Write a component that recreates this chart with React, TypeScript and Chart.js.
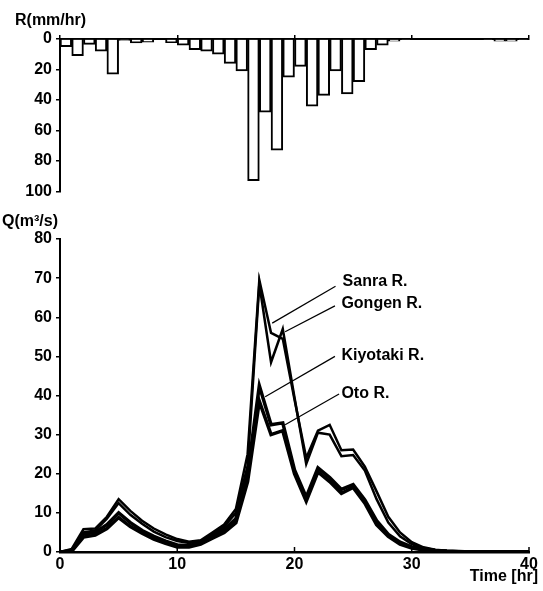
import React, { useEffect, useRef } from "react";
import { Chart, registerables } from "chart.js";

Chart.register(...registerables);

// ---------- DATA ----------
const TIME_HR = [0, 1, 2, 3, 4, 5, 6, 7, 8, 9, 10, 11, 12, 13, 14, 15, 16, 17, 18, 19, 20,
  21, 22, 23, 24, 25, 26, 27, 28, 29, 30, 31, 32, 33, 34, 35, 36, 37, 38, 39, 40];

// hourly rainfall (mm/hr), bar i covers hour i .. i+1
const RAIN_START_HR = [0, 1, 2, 3, 4, 5, 6, 7, 8, 9, 10, 11, 12, 13, 14, 15, 16, 17, 18, 19,
  20, 21, 22, 23, 24, 25, 26, 27, 28, 29, 30, 31, 32, 33, 34, 35, 36, 37, 38, 39];
const RAINFALL = [5, 11, 3.5, 8, 23, 1, 2.5, 2, 0, 2.4, 4, 7, 8, 10, 16, 21, 93, 48, 73, 25,
  18, 44, 37, 21, 36, 28, 7, 4, 1.5, 0.5, 0, 0, 0, 0, 0, 0, 0.5, 1.5, 1.5, 0.5];

// discharge (m3/s)
const SANRA = [0, 0.8, 5.8, 6, 9, 13.5, 10.5, 8, 6, 4.5, 3.3, 2.6, 3, 5, 7, 11, 25, 69.5, 56, 54.5, 39,
  24, 31, 32.5, 26, 26.2, 21.8, 15.5, 9, 5, 2.5, 1.2, 0.6, 0.3, 0.2, 0.1, 0.1, 0.1, 0.1, 0.1, 0.1];
const GONGEN = [0, 0.5, 5, 5.5, 8.5, 12.5, 9.5, 7.2, 5.2, 3.8, 2.8, 2.3, 2.8, 4.5, 6.5, 10, 22, 68.5, 48.5, 57, 39.5,
  22.5, 30.5, 30, 24.5, 24.8, 20.8, 13.5, 7.5, 4, 2, 1, 0.5, 0.3, 0.2, 0.1, 0.1, 0.1, 0.1, 0.1, 0.1];
const KIYOTAKI = [0, 0.3, 4.5, 5, 7, 10, 7.5, 5.5, 4, 2.8, 1.8, 1.6, 2.5, 4, 5.8, 8.5, 20, 42.5, 32.5, 33, 21,
  14, 21.5, 19, 16, 17.2, 13.3, 8, 4.5, 2.5, 1.3, 0.7, 0.4, 0.2, 0.1, 0, 0, 0, 0, 0, 0];
const OTO = [0, 0.2, 3.8, 4.3, 6, 8.8, 6.5, 4.8, 3.3, 2.2, 1.3, 1.3, 2, 3.5, 5, 7.5, 18, 38.5, 30, 31, 20,
  13, 20.5, 18, 15, 16.5, 12.5, 7, 4, 2, 1, 0.5, 0.3, 0.1, 0, 0, 0, 0, 0, 0, 0];

const RIVER_NAMES = ["Sanra R.", "Gongen R.", "Kiyotaki R.", "Oto R."];

const X_TICKS = [0, 10, 20, 30, 40];

// ---------- STYLE / ANNOTATION PLACEMENT ----------
const FONT_FAMILY = "'Liberation Sans', Arial, Helvetica, sans-serif";
const FONT = `bold 16px ${FONT_FAMILY}`;
// label text anchor (t, Q) and leader line endpoints (t, Q) for each river
const LABEL_POS = [
  { tx: 24.1, ty: 69, sx: 23.5, sy: 67.9, ex: 18.1, ey: 58.5 },
  { tx: 24.0, ty: 63.6, sx: 23.45, sy: 62.9, ex: 19.2, ey: 56.3 },
  { tx: 24.0, ty: 50.2, sx: 23.45, sy: 50, ex: 17.5, ey: 39.7 },
  { tx: 24.0, ty: 40.6, sx: 23.8, sy: 40.4, ex: 19.2, ey: 32.5 },
];

const W = 543;
const TOP_H = 205;
const BOT_TOP = 205;
const BOT_H = 386;

const topTextPlugin = {
  id: "topText",
  afterDraw(chart: any) {
    const ctx = chart.ctx;
    ctx.save();
    ctx.fillStyle = "#000";
    ctx.font = FONT;
    ctx.textAlign = "left";
    ctx.textBaseline = "middle";
    ctx.fillText("R(mm/hr)", 15, 21);
    ctx.restore();
  },
};

const bottomTextPlugin = {
  id: "bottomText",
  afterDraw(chart: any) {
    const ctx = chart.ctx;
    const xs = chart.scales.x;
    const ys = chart.scales.y;
    const area = chart.chartArea;
    ctx.save();
    // inward tick marks on the time axis
    ctx.strokeStyle = "#000";
    ctx.lineWidth = 1.5;
    X_TICKS.forEach((t) => {
      const px = xs.getPixelForValue(t);
      ctx.beginPath();
      ctx.moveTo(px, area.bottom);
      ctx.lineTo(px, area.bottom - 5);
      ctx.stroke();
    });
    // labels with leader lines
    ctx.lineWidth = 1.2;
    ctx.fillStyle = "#000";
    ctx.font = FONT;
    ctx.textAlign = "left";
    ctx.textBaseline = "middle";
    RIVER_NAMES.forEach((name, i) => {
      const p = LABEL_POS[i];
      ctx.beginPath();
      ctx.moveTo(xs.getPixelForValue(p.sx), ys.getPixelForValue(p.sy));
      ctx.lineTo(xs.getPixelForValue(p.ex), ys.getPixelForValue(p.ey));
      ctx.stroke();
      ctx.fillText(name, xs.getPixelForValue(p.tx), ys.getPixelForValue(p.ty));
    });
    // axis titles
    ctx.fillText("Q(m\u00B3/s)", 2, 17);
    ctx.textAlign = "right";
    ctx.fillText("Time [hr]", 538, 372);
    ctx.restore();
  },
};

export default function App() {
  const topRef = useRef<HTMLCanvasElement | null>(null);
  const botRef = useRef<HTMLCanvasElement | null>(null);

  useEffect(() => {
    const tickFont = { family: FONT_FAMILY, size: 16, weight: "bold" as const };

    const topChart = new Chart(topRef.current as HTMLCanvasElement, {
      type: "bar",
      data: {
        datasets: [
          {
            data: RAIN_START_HR.map((h, i) => ({ x: h + 0.5, y: RAINFALL[i] })),
            backgroundColor: "#fff",
            borderColor: "#000",
            borderWidth: 2,
            barPercentage: 1,
            categoryPercentage: 1,
          },
        ],
      },
      options: {
        responsive: false,
        animation: false,
        devicePixelRatio: 1,
        layout: { padding: { left: 0, right: 14, top: 0, bottom: 11 } },
        plugins: { legend: { display: false }, tooltip: { enabled: false } },
        scales: {
          x: {
            type: "linear",
            position: "top",
            offset: false,
            min: 0,
            max: 40,
            ticks: { stepSize: 10, display: false },
            grid: { offset: false, drawOnChartArea: false, drawTicks: true, tickLength: 4, color: "#000", lineWidth: 1.5 },
            border: { color: "#000", width: 2 },
            afterFit: (s: any) => { s.height = 39; },
          },
          y: {
            type: "linear",
            reverse: true,
            min: 0,
            max: 100,
            ticks: {
              stepSize: 10,
              color: "#000",
              font: tickFont,
              padding: 4,
              callback: (v: any) => (Number(v) % 20 === 0 ? String(v) : ""),
            },
            grid: { drawOnChartArea: false, drawTicks: true, tickLength: 4, color: "#000", lineWidth: 1.5 },
            border: { color: "#000", width: 2 },
            afterFit: (s: any) => { s.width = 60; },
          },
        },
      },
      plugins: [topTextPlugin],
    });

    const series = [SANRA, GONGEN, KIYOTAKI, OTO];
    const widths = [2.5, 2.5, 3.5, 3.5];
    const botChart = new Chart(botRef.current as HTMLCanvasElement, {
      type: "line",
      data: {
        datasets: series.map((s, i) => ({
          label: RIVER_NAMES[i],
          data: TIME_HR.map((t, j) => ({ x: t, y: s[j] })),
          borderColor: "#000",
          borderWidth: widths[i],
          pointRadius: 0,
          tension: 0,
          fill: false,
        })),
      },
      options: {
        responsive: false,
        animation: false,
        devicePixelRatio: 1,
        layout: { padding: { left: 0, right: 14, top: 34, bottom: 0 } },
        plugins: { legend: { display: false }, tooltip: { enabled: false } },
        scales: {
          x: {
            type: "linear",
            min: 0,
            max: 40,
            ticks: { stepSize: 10, color: "#000", font: tickFont, padding: 3, maxRotation: 0 },
            grid: { drawOnChartArea: false, drawTicks: false, tickLength: 0 },
            border: { color: "#000", width: 2.5 },
            afterFit: (s: any) => { s.height = 39; },
          },
          y: {
            type: "linear",
            min: 0,
            max: 80,
            ticks: { stepSize: 10, color: "#000", font: tickFont, padding: 4 },
            grid: { drawOnChartArea: false, drawTicks: true, tickLength: 4, color: "#000", lineWidth: 1.5 },
            border: { color: "#000", width: 2 },
            afterFit: (s: any) => { s.width = 60; },
          },
        },
      },
      plugins: [bottomTextPlugin],
    });

    return () => {
      topChart.destroy();
      botChart.destroy();
    };
  }, []);

  return (
    <div style={{ position: "absolute", left: 0, top: 0, width: W, height: 591, background: "#fff" }}>
      <canvas ref={topRef} width={W} height={TOP_H}
        style={{ position: "absolute", left: 0, top: 0, width: W, height: TOP_H }} />
      <canvas ref={botRef} width={W} height={BOT_H}
        style={{ position: "absolute", left: 0, top: BOT_TOP, width: W, height: BOT_H }} />
    </div>
  );
}
